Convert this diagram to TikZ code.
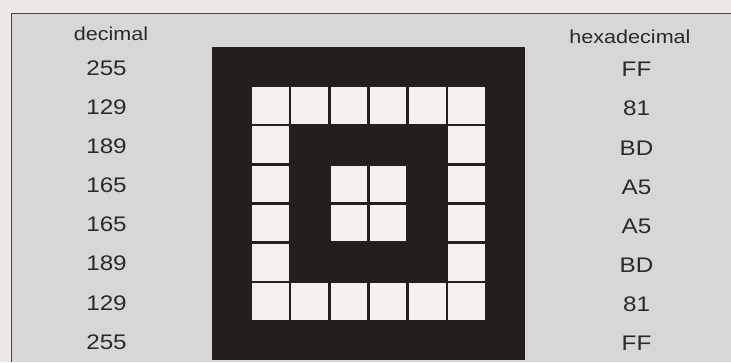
\documentclass[tikz,border=0pt]{standalone}
\usepackage{fontspec}
\setmainfont{Liberation Sans}[FakeStretch=1.15]
\usepackage{tikz}
\usetikzlibrary{positioning}
\usepackage{xcolor}
\definecolor{paper}{HTML}{EBE8E5}
\definecolor{panel}{HTML}{D9D7D5}
\definecolor{ink}{HTML}{231F1D}
\definecolor{rim}{HTML}{4A4845}
\definecolor{pixel}{HTML}{F3F0EE}
\definecolor{print}{HTML}{2C2A28}

\begin{document}
\begin{tikzpicture}[x=0.03cm, y=-0.03cm,
    headtext/.style={font=\fontsize{16}{18}\selectfont, text=print, anchor=base},
    valtext/.style={font=\fontsize{18}{20}\selectfont, text=print}]
  \useasboundingbox[fill=paper] (0,0) rectangle (731,362);
  \fill[panel] (11.5,13.5) rectangle (731,362);
  \draw[rim, line width=1.7pt] (11.5,362) -- (11.5,13.5) -- (731,13.5);
  \node[headtext] (dechead) at (111,40) {decimal};
  \node[headtext] (hexhead) at (630,43) {hexadecimal};
  % 8x8 pattern, black = 1
  \fill[ink] (212,47) rectangle (525,360);
  \foreach \dec/\hex/\bits [count=\r from 0] in {
      255/FF/{1,1,1,1,1,1,1,1},
      129/81/{1,0,0,0,0,0,0,1},
      189/BD/{1,0,1,1,1,1,0,1},
      165/A5/{1,0,1,0,0,1,0,1},
      165/A5/{1,0,1,0,0,1,0,1},
      189/BD/{1,0,1,1,1,1,0,1},
      129/81/{1,0,0,0,0,0,0,1},
      255/FF/{1,1,1,1,1,1,1,1}} {
    \node[valtext] (dec\r) at (106.5,68.1+39.125*\r) {\dec};
    \node[valtext] (hex\r) at (636.5,69.6+39.125*\r) {\hex};
    \foreach \b [count=\c from 0] in \bits {
      \ifnum\b=0
        \fill[pixel] (213.2+39.125*\c,48.2+39.125*\r) rectangle (249.9+39.125*\c,84.9+39.125*\r);
      \fi
    }
  }
\end{tikzpicture}
\end{document}
